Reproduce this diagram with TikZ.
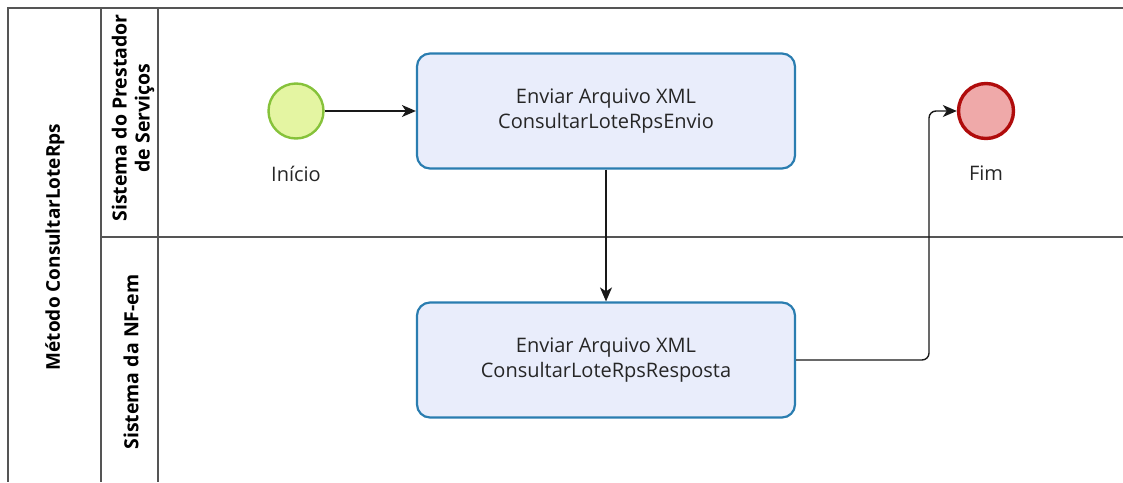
\documentclass[tikz,border=0pt]{standalone}
\usepackage{fontspec}
\setmainfont{Open Sans}
\usetikzlibrary{arrows.meta}
\definecolor{startfill}{HTML}{E4F5A2}
\definecolor{startline}{HTML}{86C23A}
\definecolor{taskfill}{HTML}{E9EDFB}
\definecolor{taskline}{HTML}{2A7DB0}
\definecolor{endfill}{HTML}{EFA9A9}
\definecolor{endline}{HTML}{B00C0C}
\definecolor{poolline}{HTML}{555555}
\tikzset{
  pool/.style={draw=poolline, line width=1.2pt},
  task/.style={draw=taskline, fill=taskfill, line width=2.2pt, rounded corners=13pt,
    minimum width=378pt, minimum height=115pt, align=center, font=\fontsize{20}{24.5}\selectfont, text=black!85},
  startev/.style={circle, draw=startline, fill=startfill, line width=2.4pt, minimum size=55pt, inner sep=0pt},
  endev/.style={circle, draw=endline, fill=endfill, line width=3.4pt, minimum size=55pt, inner sep=0pt},
  evlabel/.style={font=\fontsize{20}{24}\selectfont, text=black!85},
  lanelabel/.style={rotate=90, font=\bfseries\fontsize{19.5}{23}\selectfont, align=center},
  flow/.style={draw=black!90, line width=1.4pt, -{Stealth[length=14pt, width=12pt, inset=4pt]}}
}
\begin{document}
\begin{tikzpicture}[x=1pt, y=-1pt]
\useasboundingbox (0,0) rectangle (1123,482);
% pool and lanes
\draw[pool] (1123,8) -- (8,8) -- (8,482);
\draw[pool] (101,8) -- (101,482);
\draw[pool] (158,8) -- (158,482);
\draw[pool] (101,237) -- (1123,237);
\node[lanelabel, font=\bfseries\fontsize{19}{23}\selectfont] (poolname) at (55,247) {Método ConsultarLoteRps};
\node[lanelabel] (lane1) at (133,118) {Sistema do Prestador\\de Serviços};
\node[lanelabel] (lane2) at (131,362) {Sistema da NF-em};
% nodes
\node[startev] (start) at (296,111) {};
\node[evlabel] (startlbl) at (296,174) {Início};
\node[task] (t1) at (606,111) {Enviar Arquivo XML\\ConsultarLoteRpsEnvio};
\node[task] (t2) at (606,360) {Enviar Arquivo XML\\ConsultarLoteRpsResposta};
\node[endev] (end) at (986,111) {};
\node[evlabel] (endlbl) at (986,173) {Fim};
\coordinate (bend) at (929,360);
% flows
\draw[flow] (start) -- (t1);
\draw[flow] (t1) -- (t2);
\draw[flow, rounded corners=7pt] (t2.east) -- (bend) |- (end.west);
\end{tikzpicture}
\end{document}
